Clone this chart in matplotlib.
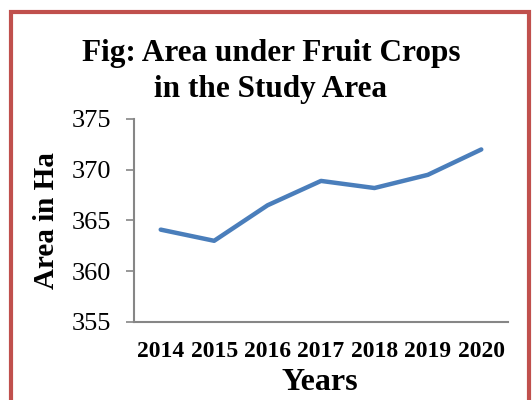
import matplotlib
matplotlib.use("Agg")
import matplotlib.pyplot as plt
from matplotlib.patches import Rectangle

years = ["2014", "2015", "2016", "2017", "2018", "2019", "2020"]
area = [364.1, 363.0, 366.5, 368.9, 368.2, 369.5, 372.0]
yticks = [355, 360, 365, 370, 375]

W, H = 532, 400
SERIF = "Liberation Serif"
fig = plt.figure(figsize=(W / 100, H / 100), dpi=100)
ax = fig.add_axes([134 / W, 1 - 322 / H, (508 - 134) / W, (322 - 119) / H])

x = list(range(len(years)))
ax.plot(x, area, color="#4A7EBB", linewidth=3.2, solid_capstyle="round", solid_joinstyle="round")
ax.set_xlim(-0.5, len(years) - 0.5)
ax.set_ylim(355, 375)
ax.set_yticks(yticks)
ax.set_yticklabels([str(v) for v in yticks], fontfamily=SERIF, fontsize=19)
ax.set_xticks(x)
ax.set_xticklabels(years, fontfamily=SERIF, fontsize=17, fontweight="bold")
ax.tick_params(axis="x", length=0, pad=14)
ax.tick_params(axis="y", length=5.5, color="#868686", width=1.2, pad=11)
for s in ["top", "right"]:
    ax.spines[s].set_visible(False)
for s in ["left", "bottom"]:
    ax.spines[s].set_color("#868686")
    ax.spines[s].set_linewidth(1.5)

fig.text(47 / W, 1 - 221 / H, "Area in Ha", rotation=90, ha="center", va="center",
         fontfamily=SERIF, fontsize=21, fontweight="bold")
fig.text(320 / W, 1 - 390 / H, "Years", ha="center", va="baseline",
         fontfamily=SERIF, fontsize=23, fontweight="bold")

fig.text(271 / W, 1 - 61 / H, "Fig: Area under Fruit Crops", ha="center", va="baseline",
         fontfamily=SERIF, fontsize=22.5, fontweight="bold")
fig.text(271 / W, 1 - 97 / H, "in the Study Area", ha="center", va="baseline",
         fontfamily=SERIF, fontsize=22.5, fontweight="bold")

rect = Rectangle((11 / W, -0.1), (529 - 11) / W, 1.1 - 12.5 / H, transform=fig.transFigure,
                 fill=False, edgecolor="#C0504D", linewidth=3, clip_on=False)
fig.patches.append(rect)

fig.savefig("out.png", dpi=100)
